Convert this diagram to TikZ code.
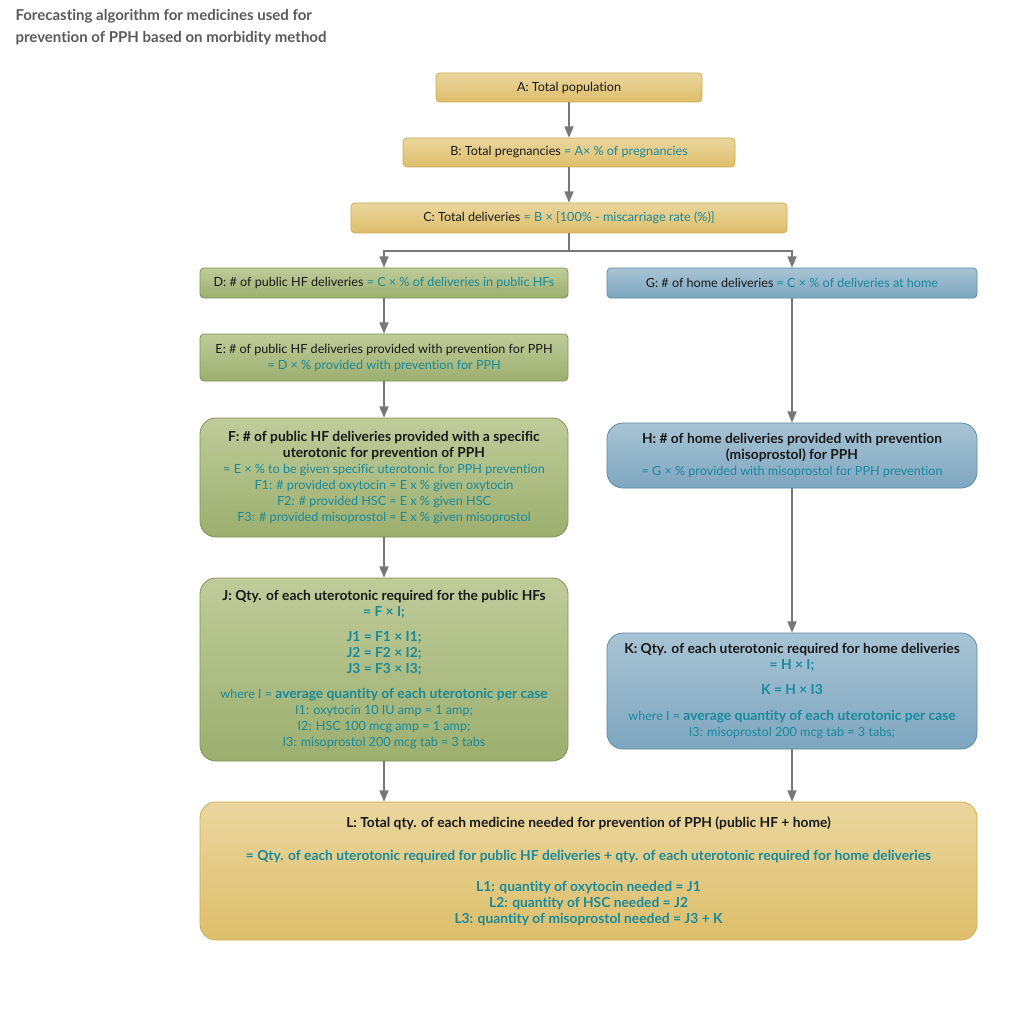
\documentclass[tikz,border=0pt]{standalone}
\usepackage{fontspec}
\setmainfont{Lato}[Ligatures=NoCommon]
\usepackage{tikz}
\usetikzlibrary{arrows,positioning}

\definecolor{goldtop}{RGB}{234,214,158}
\definecolor{goldbot}{RGB}{221,190,106}
\definecolor{goldline}{RGB}{204,170,80}
\definecolor{greentop}{RGB}{192,203,154}
\definecolor{greenbot}{RGB}{156,175,110}
\definecolor{greenline}{RGB}{128,146,86}
\definecolor{bluetop}{RGB}{168,196,212}
\definecolor{bluebot}{RGB}{126,166,192}
\definecolor{blueline}{RGB}{92,138,166}
\definecolor{formula}{RGB}{24,138,156}
\definecolor{arrowgray}{RGB}{120,120,120}
\definecolor{titlegray}{RGB}{90,90,90}

\newcommand{\fx}[1]{\textcolor{formula}{#1}}
\newcommand{\bx}[1]{{\fontsize{13.8}{16}\selectfont\bfseries #1}}

\tikzset{
  box/.style={draw, line width=0.8pt, align=center, text=black!90,
    font=\fontsize{12.6}{16}\selectfont, inner sep=2pt},
  goldbox/.style={box, draw=goldline, top color=goldtop, bottom color=goldbot, rounded corners=4pt},
  greenbox/.style={box, draw=greenline, top color=greentop, bottom color=greenbot, rounded corners=4pt},
  bluebox/.style={box, draw=blueline, top color=bluetop, bottom color=bluebot, rounded corners=4pt},
  bigcorner/.style={rounded corners=16pt},
  arr/.style={draw=arrowgray, line width=1.6pt, ->, >=triangle 45},
  branch/.style={draw=arrowgray, line width=1.6pt}
}

\begin{document}
\begin{tikzpicture}[x=1pt,y=-1pt]
  \useasboundingbox[fill=white] (0,0) rectangle (1024,1024);

  \node[anchor=north west, align=left, text=titlegray, font=\fontsize{15}{22}\selectfont\bfseries]
    (title) at (12,6) {Forecasting algorithm for medicines used for\\prevention of PPH based on morbidity method};

  % top chain
  \node[goldbox, minimum width=266pt, minimum height=29pt] (A) at (569,87.5) {A: Total population};
  \node[goldbox, minimum width=332pt, minimum height=29pt] (B) at (569,152.5)
    {B: Total pregnancies \fx{= A× \% of pregnancies}};
  \node[goldbox, minimum width=436pt, minimum height=30pt] (C) at (569,218)
    {C: Total deliveries \fx{= B × [100\% - miscarriage rate (\%)]}};

  % public HF branch
  \node[greenbox, minimum width=368pt, minimum height=30pt] (D) at (384,283)
    {D: \# of public HF deliveries \fx{= C × \% of deliveries in public HFs}};
  \node[greenbox, minimum width=368pt, minimum height=47pt] (E) at (384,357.5)
    {E: \# of public HF deliveries provided with prevention for PPH\\
     \fx{= D × \% provided with prevention for PPH}};
  \node[greenbox, bigcorner, minimum width=368pt, minimum height=119pt] (F) at (384,477.5)
    {\bx{F: \# of public HF deliveries provided with a specific}\\
     \bx{uterotonic for prevention of PPH}\\
     \fx{= E × \% to be given specific uterotonic for PPH prevention}\\
     \fx{F1: \# provided oxytocin = E x \% given oxytocin}\\
     \fx{F2: \# provided HSC = E x \% given HSC}\\
     \fx{F3: \# provided misoprostol = E x \% given misoprostol}};
  \node[greenbox, bigcorner, minimum width=368pt, minimum height=183pt] (J) at (384,669.5)
    {\bx{J: Qty. of each uterotonic required for the public HFs}\\
     \fx{\bx{= F × I;}}\\[9pt]
     \fx{\bx{J1 = F1 × I1;}}\\
     \fx{\bx{J2 = F2 × I2;}}\\
     \fx{\bx{J3 = F3 × I3;}}\\[9pt]
     \fx{where I = \bx{average quantity of each uterotonic per case}}\\
     \fx{I1: oxytocin 10 IU amp = 1 amp;}\\
     \fx{I2: HSC 100 mcg amp = 1 amp;}\\
     \fx{I3: misoprostol 200 mcg tab = 3 tabs}};

  % home branch
  \node[bluebox, minimum width=370pt, minimum height=30pt] (G) at (792,283)
    {G: \# of home deliveries \fx{= C × \% of deliveries at home}};
  \node[bluebox, bigcorner, minimum width=370pt, minimum height=65pt] (H) at (792,455.5)
    {\bx{H: \# of home deliveries provided with prevention}\\
     \bx{(misoprostol) for PPH}\\
     \fx{= G × \% provided with misoprostol for PPH prevention}};
  \node[bluebox, bigcorner, minimum width=370pt, minimum height=116pt] (K) at (792,691)
    {\bx{K: Qty. of each uterotonic required for home deliveries}\\
     \fx{\bx{= H × I;}}\\[9pt]
     \fx{\bx{K = H × I3}}\\[10pt]
     \fx{where I = \bx{average quantity of each uterotonic per case}}\\
     \fx{I3: misoprostol 200 mcg tab = 3 tabs;}};

  % total
  \node[goldbox, bigcorner, minimum width=777pt, minimum height=138pt] (L) at (588.5,871)
    {\bx{L: Total qty. of each medicine needed for prevention of PPH (public HF + home)}\\[17pt]
     \fx{\bx{= Qty. of each uterotonic required for public HF deliveries + qty. of each uterotonic required for home deliveries}}\\[15pt]
     \fx{\bx{L1: quantity of oxytocin needed = J1}}\\
     \fx{\bx{L2: quantity of HSC needed = J2}}\\
     \fx{\bx{L3: quantity of misoprostol needed = J3 + K}}};

  % connectors
  \coordinate (split) at (569,251);
  \path[arr] (A) -- (B);
  \path[arr] (B) -- (C);
  \path[branch] (C) -- (split);
  \path[arr] (split) -| (D);
  \path[arr] (split) -| (G);
  \path[arr] (D) -- (E);
  \path[arr] (E) -- (F);
  \path[arr] (F) -- (J);
  \path[arr] (J) -- (J |- L.north);
  \path[arr] (G) -- (H);
  \path[arr] (H) -- (K);
  \path[arr] (K) -- (K |- L.north);
\end{tikzpicture}
\end{document}
